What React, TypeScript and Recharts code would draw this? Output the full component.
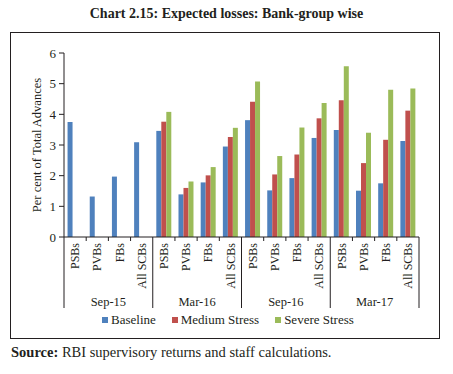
import React from "react";
import { Bar, BarChart, XAxis, YAxis } from "recharts";

const groups = ["Sep-15", "Mar-16", "Sep-16", "Mar-17"];
const bankGroups = ["PSBs", "PVBs", "FBs", "All SCBs"];

const baseline = [3.75, 1.32, 1.97, 3.09, 3.46, 1.39, 1.78, 2.95, 3.81, 1.52, 1.92, 3.23, 3.49, 1.51, 1.75, 3.13];
const medium = [null, null, null, null, 3.76, 1.6, 2.01, 3.26, 4.41, 2.04, 2.69, 3.87, 4.46, 2.41, 3.17, 4.12];
const severe = [null, null, null, null, 4.08, 1.81, 2.28, 3.56, 5.07, 2.64, 3.57, 4.37, 5.57, 3.4, 4.8, 4.84];

const yTicks = [0, 1, 2, 3, 4, 5, 6];

const series = [
  { key: "baseline", label: "Baseline", color: "#4F81BD" },
  { key: "medium", label: "Medium Stress", color: "#C0504D" },
  { key: "severe", label: "Severe Stress", color: "#9BBB59" },
];

const data = baseline.map((b, i) => ({
  id: `${groups[Math.floor(i / 4)]}|${bankGroups[i % 4]}`,
  bank: bankGroups[i % 4],
  group: groups[Math.floor(i / 4)],
  baseline: b,
  medium: medium[i],
  severe: severe[i],
}));

const FONT = "'Liberation Serif', 'Times New Roman', serif";
const INK = "#231f20";
const WIDTH = 453;
const HEIGHT = 374;
const MARGIN = { top: 53, right: 34, left: 0, bottom: 65 };
const Y_AXIS_W = 64;
const BAND = (WIDTH - MARGIN.right - MARGIN.left - Y_AXIS_W) / data.length;

function CategoryTick(props: any) {
  const { x, y, index } = props;
  const row = data[index];
  const left = x - BAND / 2;
  const isGroupStart = index % 4 === 0;
  return (
    <g>
      <line x1={left} x2={left} y1={y} y2={isGroupStart ? y + 71 : y + 4} stroke={INK} strokeWidth={1} />
      {index === data.length - 1 && (
        <line x1={x + BAND / 2} x2={x + BAND / 2} y1={y} y2={y + 71} stroke={INK} strokeWidth={1} />
      )}
      <text
        x={x}
        y={y + 6}
        dy="0.35em"
        transform={`rotate(-90, ${x}, ${y + 6})`}
        textAnchor="end"
        fontSize={12}
        fontFamily={FONT}
        fill={INK}
      >
        {row.bank}
      </text>
      {isGroupStart && (
        <text x={left + BAND * 2} y={y + 69} textAnchor="middle" fontSize={12.5} fontFamily={FONT} fill={INK}>
          {row.group}
        </text>
      )}
    </g>
  );
}

// legend drawn outside the chart so it doesn't eat into the plot height
function ChartLegend() {
  return (
    <div
      style={{
        position: "absolute",
        left: 102,
        top: 312,
        display: "flex",
        fontFamily: FONT,
        fontSize: 13,
        color: INK,
        whiteSpace: "nowrap",
      }}
    >
      {series.map((s) => (
        <div key={s.key} style={{ display: "flex", alignItems: "center", marginRight: 16 }}>
          <span style={{ width: 6, height: 6, background: s.color, display: "inline-block", marginRight: 3 }} />
          <span>{s.label}</span>
        </div>
      ))}
    </div>
  );
}

export default function App() {
  return (
    <div style={{ position: "absolute", left: 0, top: 0, width: WIDTH, height: HEIGHT, background: "#fff" }}>
      <div
        style={{
          position: "absolute",
          left: 0,
          top: 6,
          width: WIDTH,
          textAlign: "center",
          fontFamily: FONT,
          fontWeight: "bold",
          fontSize: 14,
          color: INK,
        }}
      >
        Chart 2.15: Expected losses: Bank-group wise
      </div>
      <div
        style={{
          position: "absolute",
          left: 10,
          top: 32,
          width: 428,
          height: 305,
          border: `1px solid ${INK}`,
        }}
      />
      <div style={{ position: "absolute", left: 0, top: 0 }}>
        <BarChart width={WIDTH} height={HEIGHT} data={data} margin={MARGIN} barCategoryGap="16%" barGap={0}>
          <XAxis
            dataKey="id"
            interval={0}
            height={72}
            tickLine={false}
            tickSize={0}
            tickMargin={0}
            axisLine={{ stroke: INK }}
            tick={<CategoryTick />}
          />
          <YAxis
            width={Y_AXIS_W}
            domain={[0, 6]}
            ticks={yTicks}
            interval={0}
            tickSize={5}
            tickMargin={3}
            axisLine={{ stroke: INK }}
            tickLine={{ stroke: INK }}
            tick={{ fontSize: 13, fontFamily: FONT, fill: INK }}
            label={{
              content: () => (
                <text
                  x={37}
                  y={145}
                  transform="rotate(-90, 37, 145)"
                  textAnchor="middle"
                  dominantBaseline="central"
                  fontSize={12.5}
                  fontFamily={FONT}
                  fill={INK}
                >
                  Per cent of Total Advances
                </text>
              ),
            }}
          />
          {series.map((s) => (
            <Bar key={s.key} dataKey={s.key} name={s.label} fill={s.color} isAnimationActive={false} />
          ))}
        </BarChart>
      </div>
      <ChartLegend />
      <div
        style={{
          position: "absolute",
          left: 11,
          top: 344,
          fontFamily: FONT,
          fontSize: 14.5,
          color: INK,
          whiteSpace: "nowrap",
        }}
      >
        <b>Source:</b> RBI supervisory returns and staff calculations.
      </div>
    </div>
  );
}
